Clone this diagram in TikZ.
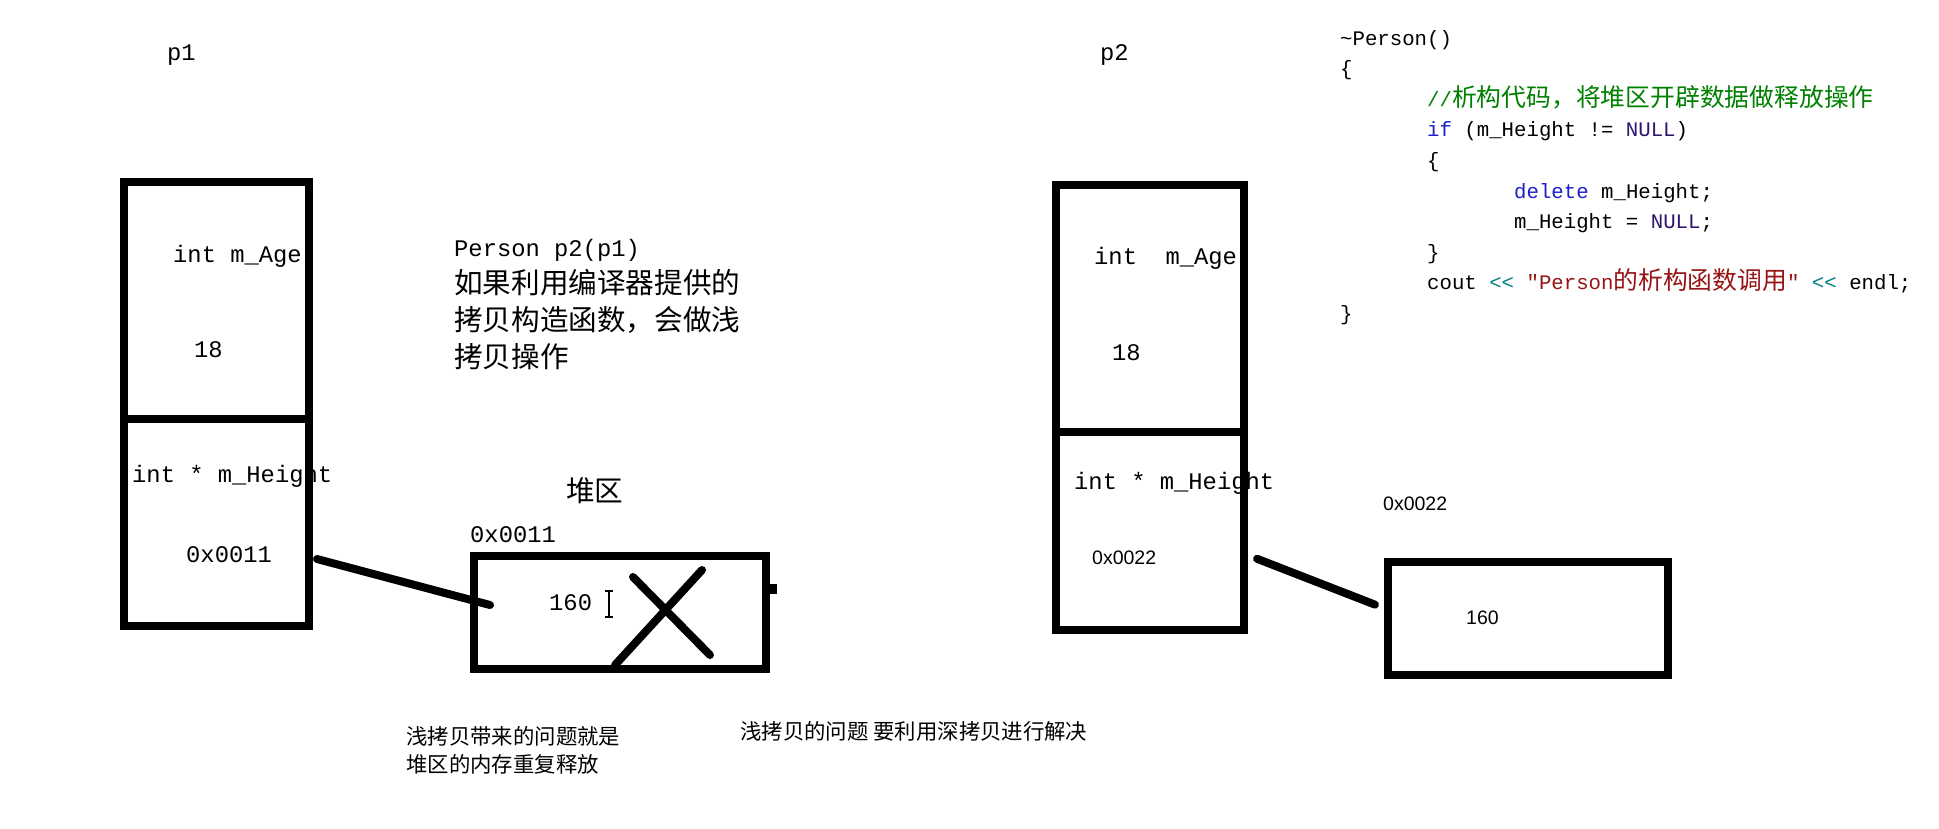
\documentclass[tikz,border=0pt]{standalone}
\usepackage{fontspec}
\setmonofont{Liberation Mono}
\newfontfamily\cjk{Noto Sans CJK SC}
\newfontfamily\smallsans{Liberation Sans}
\usetikzlibrary{positioning}

\definecolor{codegreen}{RGB}{0,128,0}
\definecolor{codeblue}{RGB}{30,30,200}
\definecolor{codenull}{RGB}{47,20,110}
\definecolor{codeteal}{RGB}{0,128,128}
\definecolor{codered}{RGB}{150,20,20}

\newlength\tabw
\setlength\tabw{87pt}
\newcommand\zhcode[1]{{\cjk\fontsize{24.8}{30.6}\selectfont #1}}

\begin{document}
\begin{tikzpicture}[x=1pt,y=-1pt,
    lbl/.style={anchor=base west, inner sep=0pt, font=\ttfamily\fontsize{23.8}{28}\selectfont},
    zh/.style={anchor=base west, inner sep=0pt, align=left, font=\cjk\fontsize{28.6}{37}\selectfont},
    note/.style={anchor=base west, inner sep=0pt, align=left, font=\cjk\fontsize{21.4}{28}\selectfont},
    tiny/.style={anchor=base west, inner sep=0pt, font=\smallsans\fontsize{19.5}{23}\selectfont},
    cell/.style={draw, line width=8pt, inner sep=0pt, outer sep=0pt, anchor=north west},
    link/.style={line width=8pt, line cap=round}]
    \useasboundingbox (0,0) rectangle (1939,828);

    % p1
    \node[lbl] (p1name) at (167,60) {p1};
    \node[lbl] (p1agetxt) at (173,262) {int m\_Age};
    \node[lbl] (p1ageval) at (194,357) {18};
    \node[lbl] (p1ptrtxt) at (132,482) {int * m\_Height};
    \node[lbl] (p1ptrval) at (186,562) {0x0011};
    \node[cell, minimum width=185pt, minimum height=237pt] (p1age) at (124,182) {};
    \node[cell, minimum width=185pt, minimum height=207pt] (p1ptr) at (p1age.south west) {};

    % base of a multi-line node = last line
    \node[zh] (copytxt) at (454,367)
       {{\ttfamily\fontsize{23.8}{37}\selectfont Person p2(p1)}\\如果利用编译器提供的\\拷贝构造函数，会做浅\\拷贝操作};

    % heap of p1
    \node[zh] (heaptitle) at (566,501) {堆区};
    \node[lbl] (heap1addr) at (470,542) {0x0011};
    \node[lbl] (heap1val) at (549,610) {160};
    \node[cell, minimum width=291.5pt, minimum height=113pt] (heap1) at (474,556) {};
    \fill (769,584) rectangle (777,594);
    \draw[line width=1.5pt] (609,591) -- (609,617) (605,591) -- (613,591) (605,617) -- (613,617);
    \draw[link] (633,577) -- (710,655) (702,570) -- (615,665);
    \draw[link] ([shift={(8,36.5)}]p1ptr.east) -- ([shift={(16,-7.5)}]heap1.west);

    \node[note] (note1) at (406,772) {浅拷贝带来的问题就是\\堆区的内存重复释放};
    \node[note] (note2) at (740,739) {浅拷贝的问题 要利用深拷贝进行解决};

    % p2
    \node[lbl] (p2name) at (1100,60) {p2};
    \node[lbl] (p2agetxt) at (1094,264) {int\ \ m\_Age};
    \node[lbl] (p2ageval) at (1112,360) {18};
    \node[lbl] (p2ptrtxt) at (1074,489) {int * m\_Height};
    \node[tiny] (p2ptrval) at (1092,564) {0x0022};
    \node[cell, minimum width=188pt, minimum height=246.5pt] (p2age) at (1056,185) {};
    \node[cell, minimum width=188pt, minimum height=198.5pt] (p2ptr) at (p2age.south west) {};

    \node[tiny] (heap2addr) at (1383,510) {0x0022};
    \node[tiny] (heap2val) at (1466,624) {160};
    \node[cell, minimum width=280.5pt, minimum height=112.5pt] (heap2) at (1387.5,562) {};
    \draw[link] ([shift={(13,28)}]p2ptr.east) -- ([shift={(-12.5,-13.6)}]heap2.west);

    % destructor code
    \node[anchor=base west, inner sep=0pt, align=left, font=\ttfamily\fontsize{20.7}{30.6}\selectfont] (code) at (1340,320.4)
       {\textasciitilde Person()\\
        \{\\
        \hspace*{\tabw}{\color{codegreen}//\zhcode{析构代码，将堆区开辟数据做释放操作}}\\
        \hspace*{\tabw}{\color{codeblue}if} (m\_Height != {\color{codenull}NULL})\\
        \hspace*{\tabw}\{\\
        \hspace*{2\tabw}{\color{codeblue}delete} m\_Height;\\
        \hspace*{2\tabw}m\_Height = {\color{codenull}NULL};\\
        \hspace*{\tabw}\}\\
        \hspace*{\tabw}cout {\color{codeteal}<<} {\color{codered}"Person\zhcode{的析构函数调用}"} {\color{codeteal}<<} endl;\\
        \}};
\end{tikzpicture}
\end{document}
